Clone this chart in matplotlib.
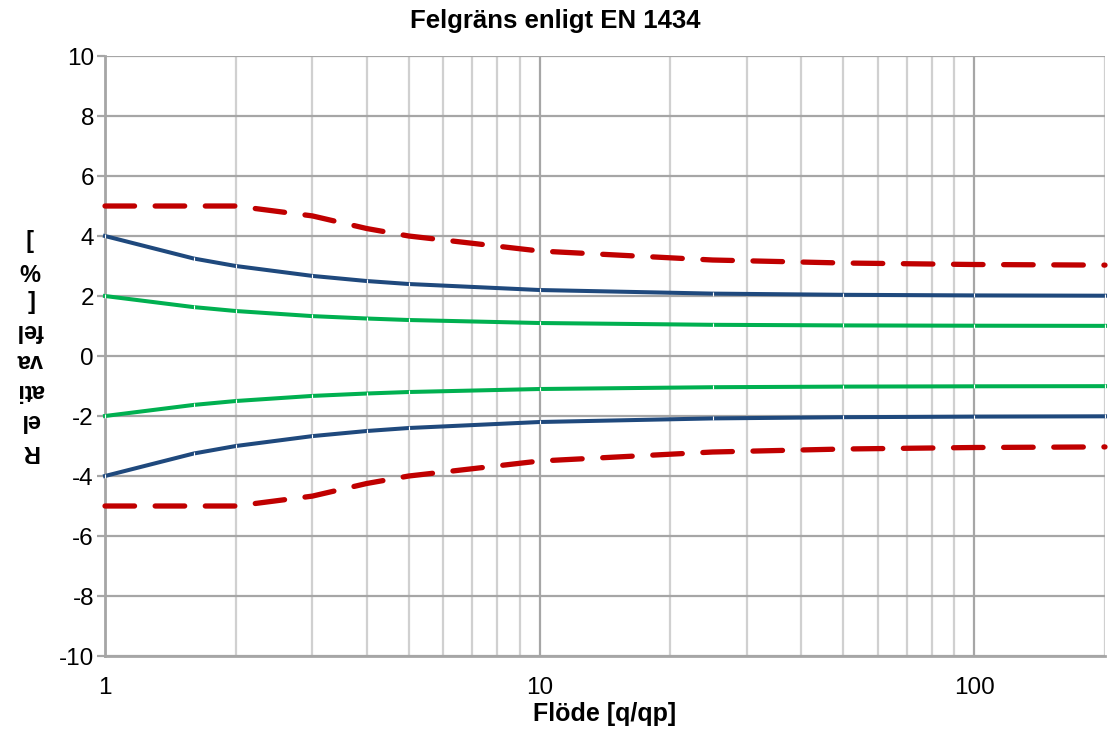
import matplotlib.pyplot as plt
import numpy as np

plt.rcParams['font.family'] = ['Liberation Sans', 'DejaVu Sans']
plt.rcParams['axes.unicode_minus'] = False

# Flow values [q/qp] and error limits [%]
flow = [1, 1.6, 2, 3, 4, 5, 10, 25, 50, 100, 200]
blue_upper = [4.0, 3.25, 3.0, 2.67, 2.5, 2.4, 2.2, 2.08, 2.04, 2.02, 2.01]
green_upper = [2.0, 1.63, 1.5, 1.33, 1.25, 1.2, 1.1, 1.04, 1.02, 1.01, 1.005]
red_upper = [5.0, 5.0, 5.0, 4.67, 4.25, 4.0, 3.5, 3.2, 3.1, 3.05, 3.03]
blue_lower = [-v for v in blue_upper]
green_lower = [-v for v in green_upper]
red_lower = [-v for v in red_upper]

fig = plt.figure(figsize=(11.1, 7.38), dpi=100)
ax = fig.add_axes([0.0946, 0.1111, 0.9009, 0.8130])

ax.set_xscale('log')
ax.set_xlim(1, 200)
ax.set_ylim(-10, 10)
ax.set_yticks(np.arange(-10, 11, 2))
ax.set_xticks([1, 10, 100])
ax.set_xticklabels(['1', '10', '100'])
ax.set_xticks([2, 3, 4, 5, 6, 7, 8, 9, 20, 30, 40, 50, 60, 70, 80, 90, 200], minor=True)
ax.xaxis.set_minor_formatter(plt.NullFormatter())

# grid
ax.grid(True, axis='y', which='major', color='#A6A6A6', lw=1.6, zorder=0)
ax.grid(True, axis='x', which='minor', color='#D0D0D0', lw=1.6, zorder=0)
ax.grid(True, axis='x', which='major', color='#A6A6A6', lw=1.6, zorder=0)
ax.set_axisbelow(True)

for s in ['top', 'right']:
    ax.spines[s].set_visible(False)
for s in ['left', 'bottom']:
    ax.spines[s].set_color('#A6A6A6')
    ax.spines[s].set_linewidth(2)

ax.tick_params(axis='y', which='major', length=6, width=1.6, color='#A6A6A6',
               labelsize=17.5, pad=2)
ax.tick_params(axis='x', which='both', length=0, labelsize=17.5, pad=15)

mk = dict(marker='|', markersize=3, markeredgecolor='white', markeredgewidth=0.8)

ax.plot(flow, red_upper, color='#C00000', lw=3.8, dashes=(5.6, 3.9),
        dash_capstyle='round', zorder=3)
ax.plot(flow, red_lower, color='#C00000', lw=3.8, dashes=(5.6, 3.9),
        dash_capstyle='round', zorder=3)
ax.plot(flow, blue_upper, color='#1F497D', lw=2.9, zorder=3, **mk)
ax.plot(flow, blue_lower, color='#1F497D', lw=2.9, zorder=3, **mk)
ax.plot(flow, green_upper, color='#00B050', lw=2.9, zorder=3, **mk)
ax.plot(flow, green_lower, color='#00B050', lw=2.9, zorder=3, **mk)

for ln in ax.lines:
    ln.set_clip_on(False)

fig.text(0.5, 0.972, 'Felgräns enligt EN 1434', ha='center', va='center',
         fontsize=18.5, fontweight='bold')
ax.set_xlabel('Flöde [q/qp]', fontsize=18, fontweight='bold', labelpad=2)

# rotated, wrapped y label as in the original
fig.text(0.027, 0.532, 'R\nel\nati\nva\nfel\n[\n%\n]', rotation=180,
         ha='center', va='center', multialignment='center',
         fontsize=17, fontweight='bold', linespacing=1.4)

fig.savefig('out.png', dpi=100)
